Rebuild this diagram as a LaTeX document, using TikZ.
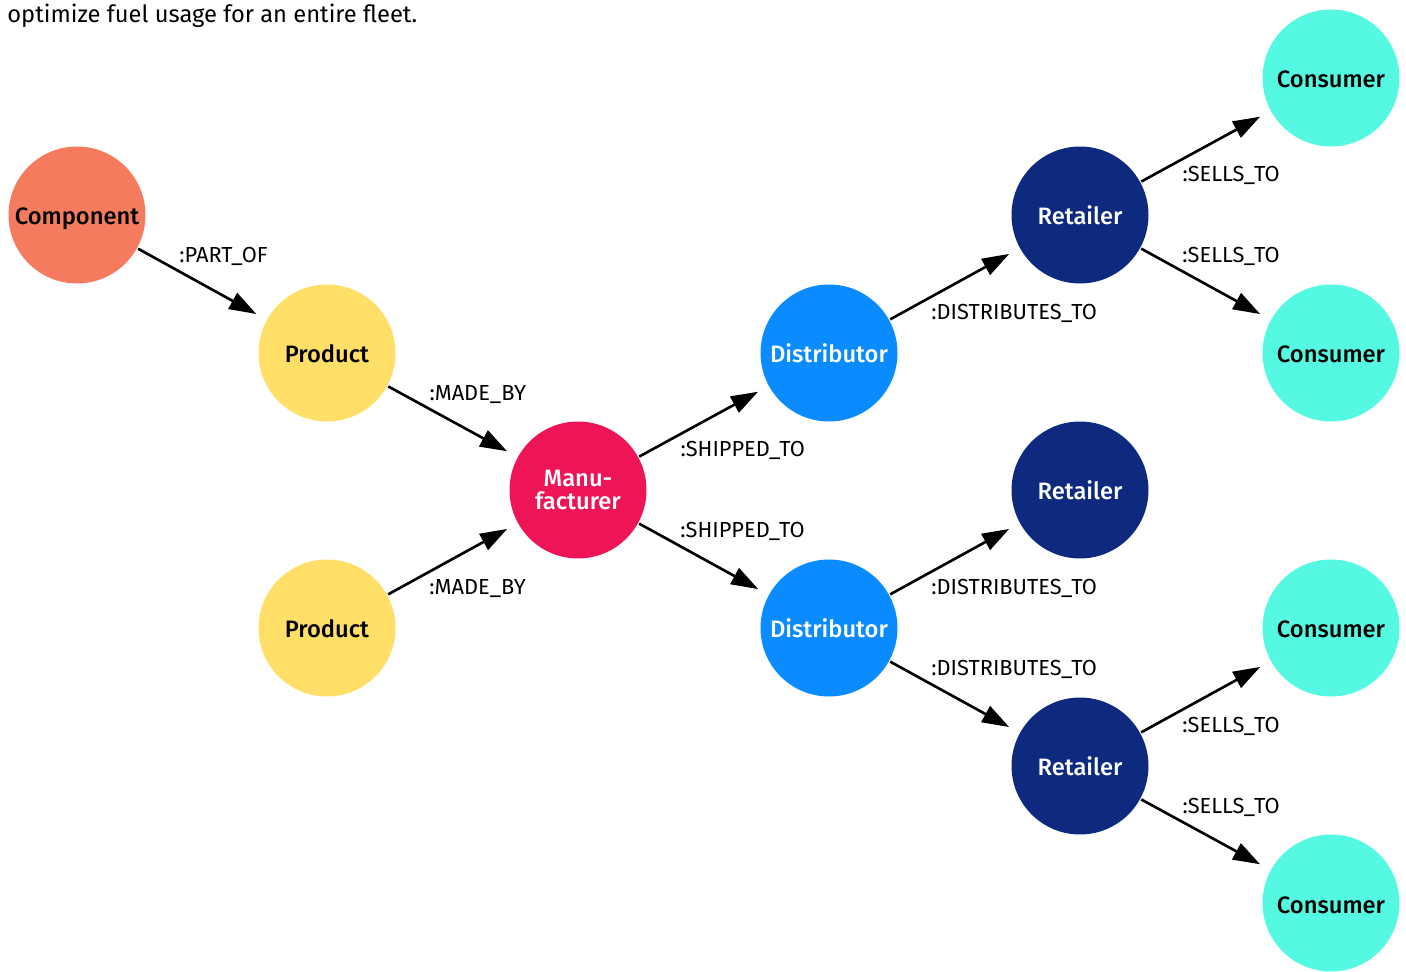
\documentclass[tikz,border=0pt]{standalone}
\usepackage{fontspec}
\setmainfont{Fira Sans}[BoldFont={Fira Sans Medium}]
\usetikzlibrary{arrows.meta,calc}

\definecolor{compcol}{HTML}{F57B5E}
\definecolor{prodcol}{HTML}{FFDF67}
\definecolor{manucol}{HTML}{ED1556}
\definecolor{distcol}{HTML}{0A8BFF}
\definecolor{retcol}{HTML}{0D2A7E}
\definecolor{conscol}{HTML}{55F9E2}

\begin{document}
\begin{tikzpicture}
[x=0.02cm,y=-0.02cm,-,line width=1.5pt,
every node/.style={inner sep=0pt},
ent/.style={shape=circle,minimum width=2.74cm,align=center,
	font=\bfseries\fontsize{13.5}{13}\selectfont},
one/.style={text height=0.4cm,text depth=0pt},
rel/.style={anchor=base west,font=\fontsize{12.4}{14}\selectfont}]
\useasboundingbox (0,0) rectangle (1406,972);

\node[anchor=base west,font=\fontsize{13.5}{16}\selectfont] (intro) at (6,23)
{optimize fuel usage for an entire fleet.};

\node[ent,one,fill=compcol] (comp) at (77,215) {Component};
\node[ent,one,fill=prodcol] (prod1) at (327,353) {Product};
\node[ent,one,fill=prodcol] (prod2) at (327,628) {Product};
\node[ent,fill=manucol,text=white] (manu) at (578,490) {Manu-\\facturer};
\node[ent,one,fill=distcol,text=white] (dist1) at (829,353) {Distributor};
\node[ent,one,fill=distcol,text=white] (dist2) at (829,628) {Distributor};
\node[ent,one,fill=retcol,text=white] (ret1) at (1080,215) {Retailer};
\node[ent,one,fill=retcol,text=white] (ret2) at (1080,490) {Retailer};
\node[ent,one,fill=retcol,text=white] (ret3) at (1080,766) {Retailer};
\node[ent,one,fill=conscol] (cons1) at (1331,78) {Consumer};
\node[ent,one,fill=conscol] (cons2) at (1331,353) {Consumer};
\node[ent,one,fill=conscol] (cons3) at (1331,628) {Consumer};
\node[ent,one,fill=conscol] (cons4) at (1331,903) {Consumer};

% relationships, label baseline shift: down edges 14px, up edges 0
\foreach \startNode/\endNode/\lbl/\dy in
{comp/prod1/:PART\_OF/14, prod1/manu/:MADE\_BY/14, prod2/manu/:MADE\_BY/0,
	manu/dist1/:SHIPPED\_TO/0, manu/dist2/:SHIPPED\_TO/14,
	dist1/ret1/:DISTRIBUTES\_TO/0, dist2/ret2/:DISTRIBUTES\_TO/0,
	dist2/ret3/:DISTRIBUTES\_TO/14, ret1/cons1/:SELLS\_TO/0,
	ret1/cons2/:SELLS\_TO/14, ret3/cons3/:SELLS\_TO/0, ret3/cons4/:SELLS\_TO/14}
{
	\draw[-{Triangle[length=0.54cm,width=0.36cm]},shorten >=0.22cm]
	(\startNode) -- (\endNode)
	node[rel,pos=0,xshift=0.8cm,yshift=-\dy*0.02cm] {\lbl};
};
\end{tikzpicture}
\end{document}
